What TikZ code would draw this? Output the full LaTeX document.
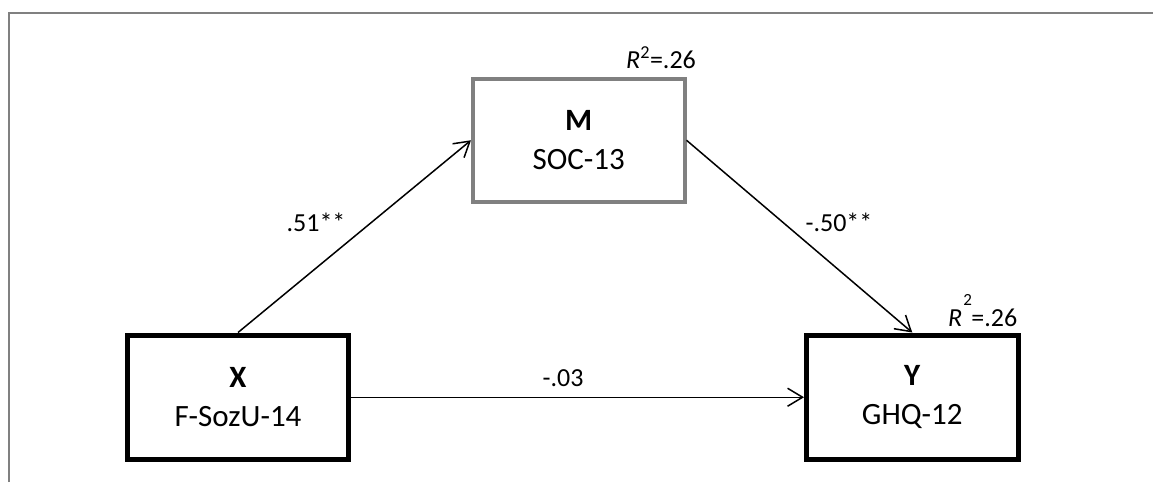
\documentclass[tikz,border=0pt]{standalone}
\usepackage{fontspec}
\setmainfont{Carlito}
\usetikzlibrary{arrows.meta}
\definecolor{framegray}{RGB}{128,128,128}
\begin{document}
\begin{tikzpicture}[x=1pt,y=-1pt,
  varbox/.style={draw, rectangle, align=center, inner sep=0pt,
    font=\fontsize{31pt}{39pt}\selectfont},
  boldbox/.style={varbox, line width=5pt, minimum width=#1, minimum height=124.5pt},
  graybox/.style={varbox, draw=framegray, line width=4pt, minimum width=211.5pt, minimum height=123.5pt},
  path/.style={line width=1.5pt, -{Straight Barb[length=15pt,width=18pt,line width=1.5pt]}},
  coef/.style={font=\fontsize{26pt}{30pt}\selectfont, inner sep=0pt},
  rsq/.style={font=\fontsize{26pt}{30pt}\selectfont, inner sep=0pt, anchor=base west}]
\useasboundingbox (0,0) rectangle (1153,482);
\draw[framegray, line width=2pt] (9,482) -- (9,13) -- (1153,13);
\node[boldbox=221pt] (X) at (238,397.25) {\textbf{X}\\F-SozU-14};
\node[graybox] (M) at (578.75,140.25) {\textbf{M}\\SOC-13};
\node[boldbox=211.5pt] (Y) at (912.25,397.25) {\textbf{Y}\\GHQ-12};
\draw[path] (X.north) -- (M.west);
\draw[path] (M.east) -- (Y.north);
\draw[path] (X.east) -- (Y.west);
\node[coef, anchor=base] (a) at (316,231.5) {.51**};
\node[coef, anchor=base] (b) at (839,231.5) {-.50**};
\node[coef, anchor=base] (c) at (563,386) {-.03};
\node[rsq] (rm) at (626,68) {\textit{R}\textsuperscript{2}=.26};
\node[rsq] (ry) at (948,326) {\textit{R}\rlap{\raisebox{21pt}{\fontsize{17pt}{17pt}\selectfont\hspace{1pt}2}}\hspace{9pt}=.26};
\end{tikzpicture}
\end{document}
